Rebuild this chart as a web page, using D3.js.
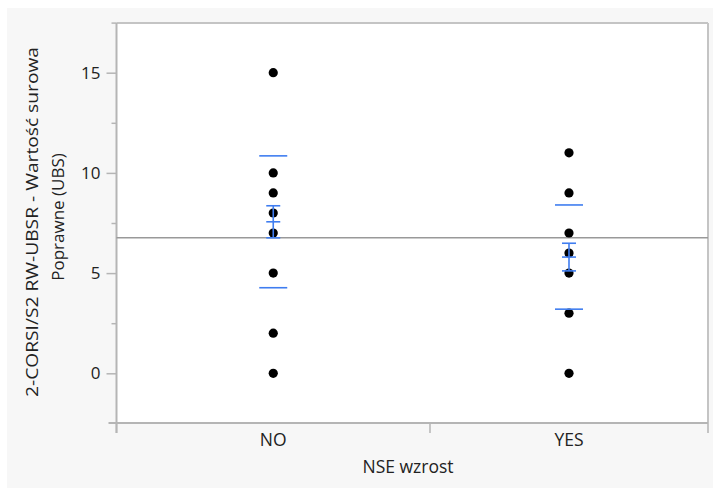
<!DOCTYPE html>
<html><head><meta charset="utf-8">
<script src="https://cdn.jsdelivr.net/npm/d3@7"></script>
<style>body{margin:0;background:#fff;}svg{display:block;font-family:"Open Sans",sans-serif;}</style>
</head><body>
<svg id="c" width="713" height="488"></svg>
<script>
// ---- data ----
const categories = ["NO", "YES"];
const pointsNO = [15, 10, 9, 8, 7, 5, 2, 0];
const pointsYES = [11, 9, 7, 6, 5, 3, 0];
const groupMeans = [7.56, 5.80];
const groupSD = [3.29, 2.60];
const groupSE = [0.80, 0.69];
const grandMean = 6.77;
const yTicks = [0, 5, 10, 15];
const yMinorTicks = [2.5, 7.5, 12.5, 17.5];
const yTitleLines = ["2-CORSI/S2 RW-UBSR - Wartość surowa", "Poprawne (UBS)"];
const xTitle = "NSE wzrost";
const groupShare = [0.53, 0.47];

const svg = d3.select("#c");
const L = 116.5, R = 708, T = 23, B = 423;
svg.append("rect").attr("x",0).attr("y",0).attr("width",713).attr("height",488).attr("fill","#fff");
svg.append("rect").attr("x",7).attr("y",8).attr("width",706).attr("height",480).attr("fill","#f7f7f7");
svg.append("text").attr("x",12).attr("y",-4).attr("font-weight","bold").attr("font-size",18).attr("fill","#333").text("NSE wzrost");
svg.append("rect").attr("x",L).attr("y",T).attr("width",R-L).attr("height",B-T).attr("fill","#fff");

const y = d3.scaleLinear().domain([-2.48, 17.48]).range([B, T]);
const cum = [0]; groupShare.forEach((s,i)=>cum.push(cum[i]+s));
const xb = d3.scaleLinear().domain([0,1]).range([L, R]);
const bounds = cum.map(c=>xb(c));
const xc = d3.scaleOrdinal().domain(categories).range(categories.map((c,i)=>(bounds[i]+bounds[i+1])/2));

// y axis
const yAxis = d3.axisLeft(y).tickValues(yTicks).tickSize(10).tickPadding(6);
const gy = svg.append("g").attr("transform",`translate(${L},0)`).call(yAxis);
gy.select(".domain").remove();
gy.selectAll(".tick line").attr("stroke","#b5b5b5").attr("stroke-width",1.5);
gy.selectAll(".tick text").attr("font-size",17).attr("fill","#222").attr("font-family","Open Sans");
const yMinor = d3.axisLeft(y).tickValues(yMinorTicks).tickSize(5).tickFormat("");
const gym = svg.append("g").attr("transform",`translate(${L},0)`).call(yMinor);
gym.select(".domain").remove();
gym.selectAll(".tick line").attr("stroke","#b5b5b5").attr("stroke-width",1.5);

// x axis ticks at group boundaries
svg.append("g").selectAll("line").data(bounds).join("line")
  .attr("x1",d=>d).attr("x2",d=>d).attr("y1",B).attr("y2",B+10)
  .attr("stroke","#b5b5b5").attr("stroke-width",1.5);
svg.append("g").selectAll("text").data(categories).join("text")
  .attr("x",d=>xc(d)).attr("y",446).attr("text-anchor","middle")
  .attr("font-size",17.5).attr("fill","#222").text(d=>d);

// frame
svg.append("line").attr("x1",L).attr("x2",R).attr("y1",T).attr("y2",T).attr("stroke","#c4c4c4").attr("stroke-width",2);
svg.append("line").attr("x1",R).attr("x2",R).attr("y1",T).attr("y2",B+10).attr("stroke","#c4c4c4").attr("stroke-width",2);
svg.append("line").attr("x1",L).attr("x2",L).attr("y1",T).attr("y2",B+10).attr("stroke","#b5b5b5").attr("stroke-width",2);
svg.append("line").attr("x1",L-8).attr("x2",R).attr("y1",B).attr("y2",B).attr("stroke","#b5b5b5").attr("stroke-width",2);

// titles
svg.append("text").attr("x",408).attr("y",473).attr("text-anchor","middle").attr("font-size",17.5).attr("fill","#222").text(xTitle);
const yt = svg.append("text").attr("transform","translate(0,222) rotate(-90)").attr("text-anchor","middle").attr("font-size",17).attr("fill","#222");
yt.append("tspan").attr("x",0).attr("y",38).attr("textLength",350).attr("lengthAdjust","spacingAndGlyphs").text(yTitleLines[0]);
yt.append("tspan").attr("x",5).attr("y",64).text(yTitleLines[1]);

// grand mean
svg.append("line").attr("x1",L).attr("x2",R).attr("y1",y(grandMean)).attr("y2",y(grandMean)).attr("stroke","#999").attr("stroke-width",1.5);

// points
const groups = [pointsNO, pointsYES];
groups.forEach((pts,i)=>{
  svg.append("g").selectAll("circle").data(pts).join("circle")
    .attr("cx",xc(categories[i])).attr("cy",d=>y(d)).attr("r",4.6).attr("fill","#000");
});

// mean / error bars / sd lines
const blue = "#3f7df0";
categories.forEach((c,i)=>{
  const cx = xc(c), g = svg.append("g").attr("stroke",blue).attr("stroke-width",1.6);
  const m = groupMeans[i], sd = groupSD[i], se = groupSE[i];
  g.append("line").attr("x1",cx-14).attr("x2",cx+14).attr("y1",y(m+sd)).attr("y2",y(m+sd));
  g.append("line").attr("x1",cx-14).attr("x2",cx+14).attr("y1",y(m-sd)).attr("y2",y(m-sd));
  g.append("line").attr("x1",cx).attr("x2",cx).attr("y1",y(m+se)).attr("y2",y(m-se));
  [m+se, m, m-se].forEach(v=>g.append("line").attr("x1",cx-7).attr("x2",cx+7).attr("y1",y(v)).attr("y2",y(v)));
});
</script>
</body></html>
